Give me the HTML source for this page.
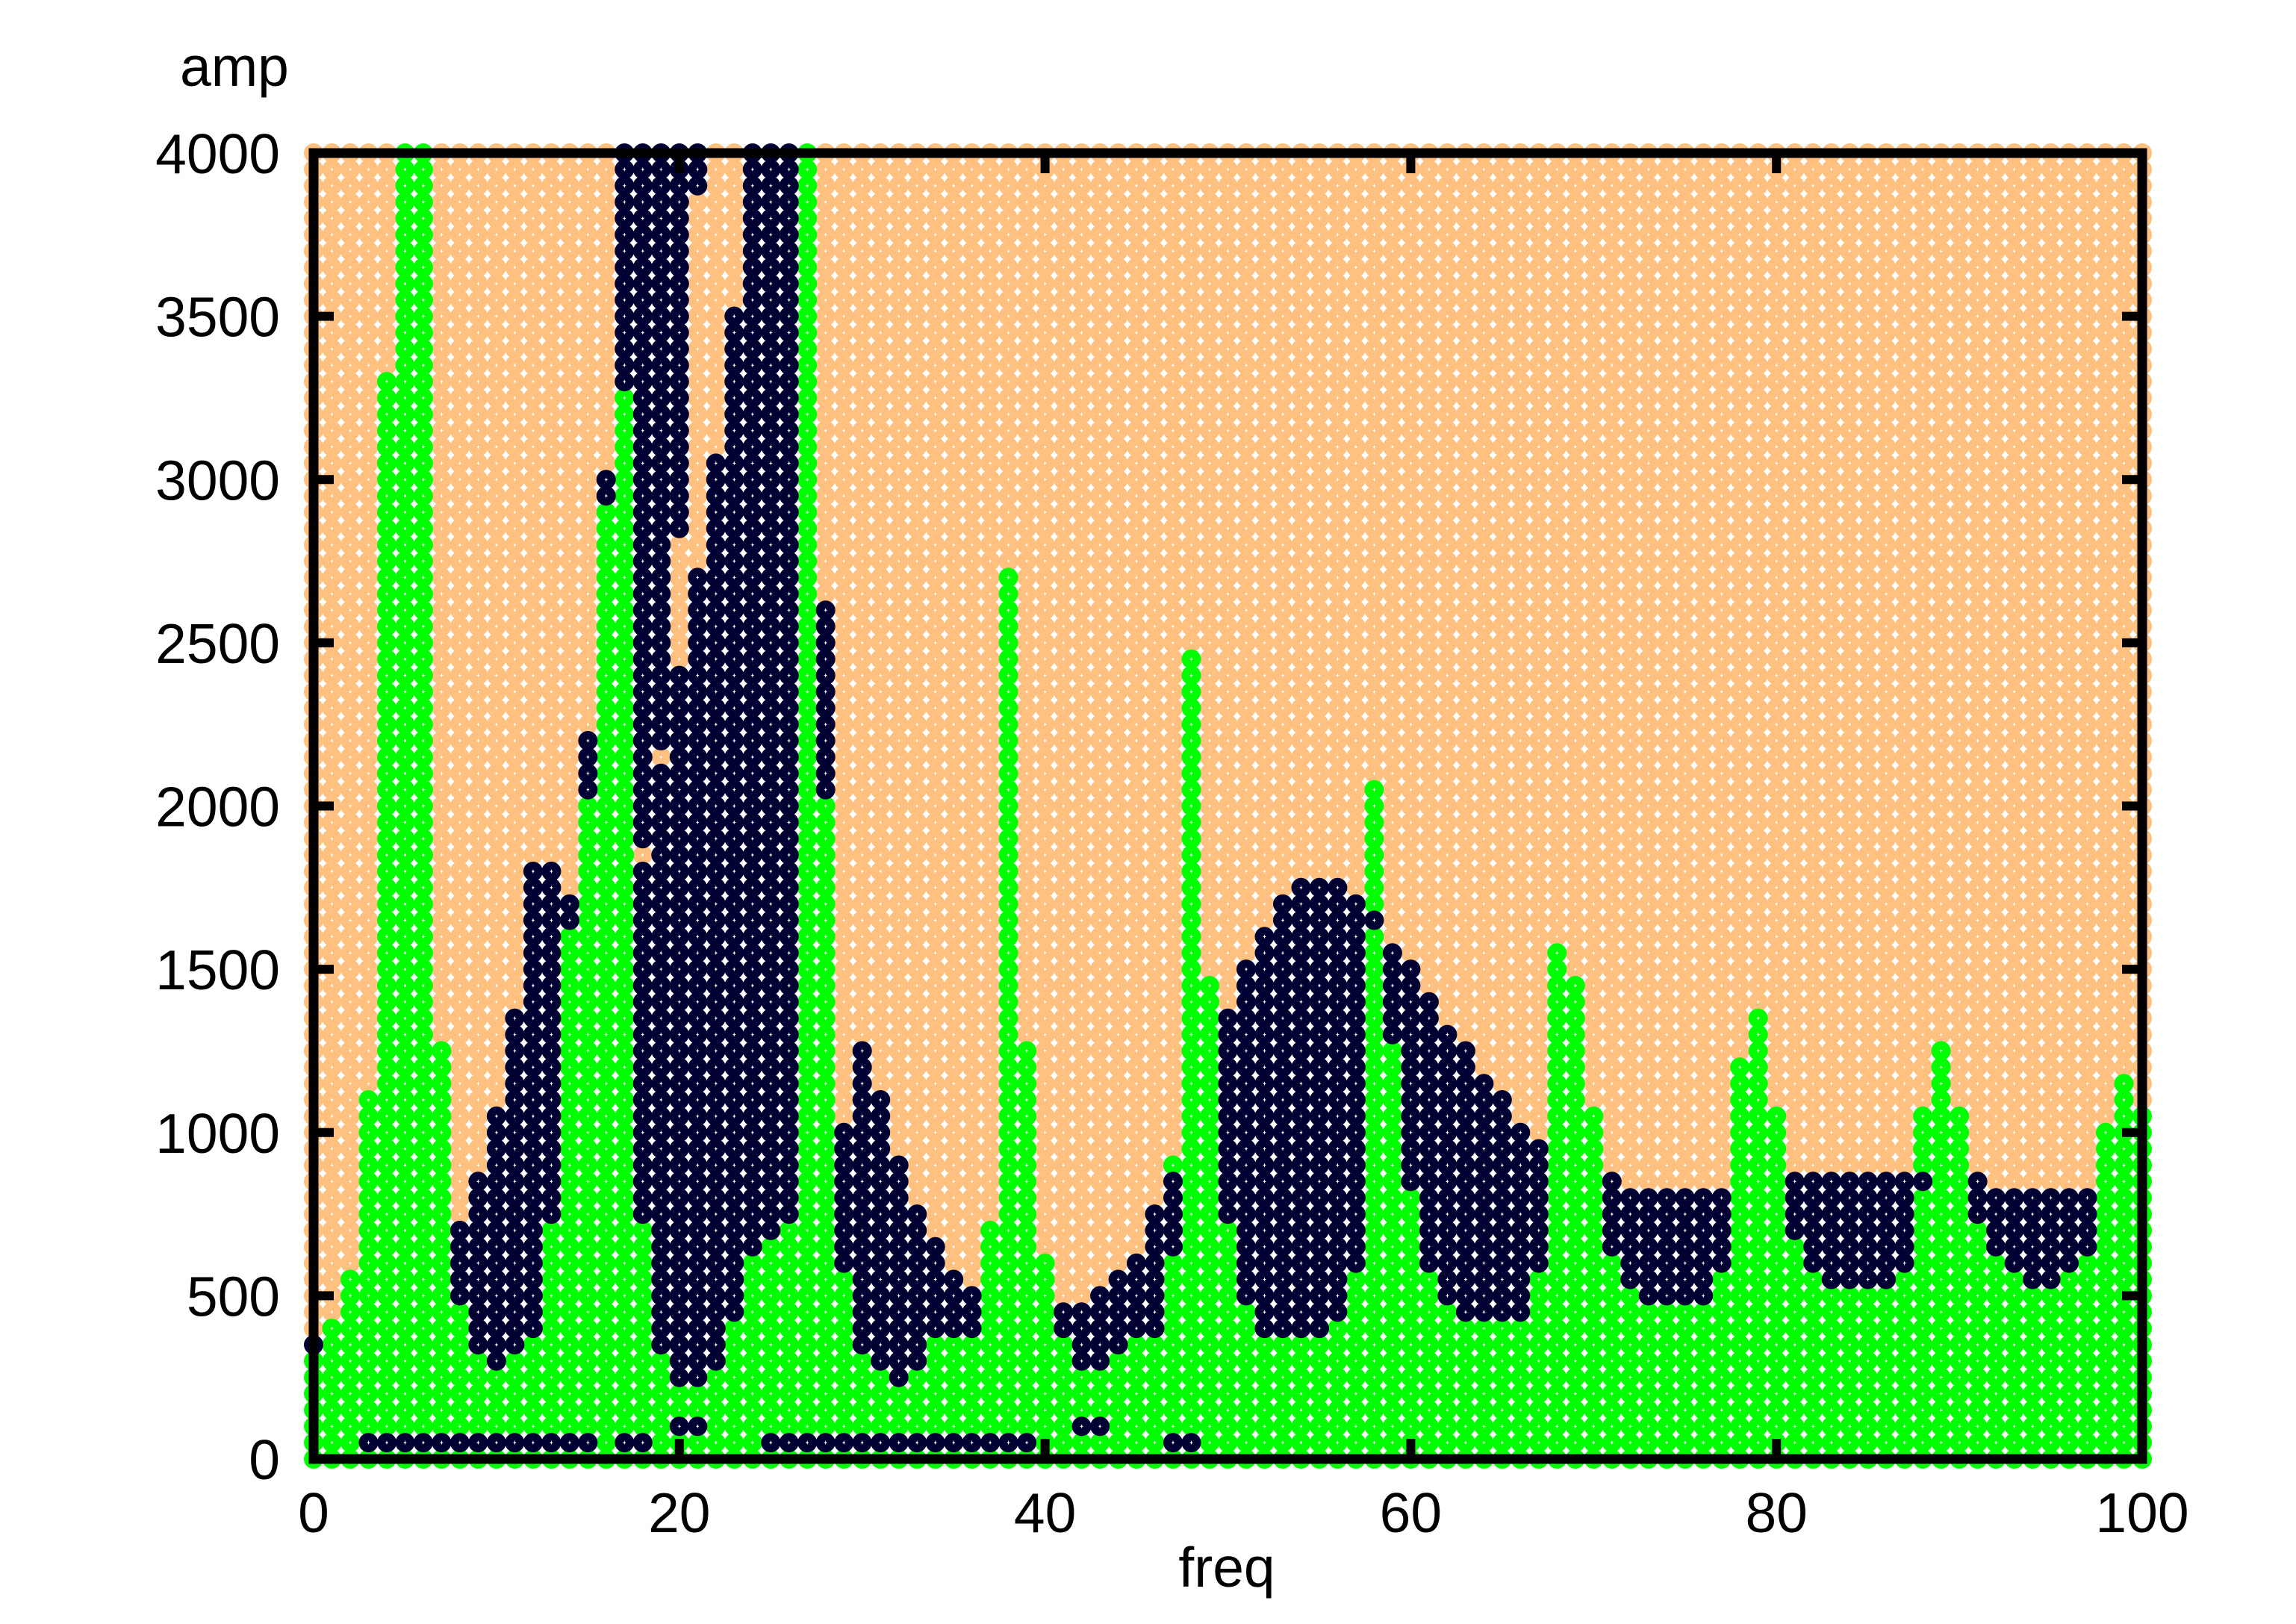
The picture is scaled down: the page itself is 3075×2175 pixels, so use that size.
<!DOCTYPE html>
<html>
<head>
<meta charset="utf-8">
<style>
  html,body{margin:0;padding:0;background:#fff;}
  svg{display:block;}
  text{font-family:"Liberation Sans",Arial,sans-serif;fill:#000;}
</style>
</head>
<body>
<svg id="chart" xmlns="http://www.w3.org/2000/svg" width="3075" height="2175" viewBox="0 0 3075 2175">
  <rect x="0" y="0" width="3075" height="2175" fill="#ffffff"/>
  <g id="dots-orange"></g>
  <g id="dots-green"></g>
  <g id="dots-navy"></g>
  <g id="dots-white"></g>
  <g id="axes"></g>
  <g id="labels"></g>
  <text x="241" y="115" font-size="75">amp</text>
  <text x="1643" y="2125" font-size="75" text-anchor="middle">freq</text>
</svg>
<script>
// ---- data (freq columns 0..100, amplitude grid step 50) ----
const greenTop = [300,400,550,1100,3300,4000,4000,1250,450,300,
  250,300,350,700,1600,2000,2900,3250,700,300,
  200,200,250,400,600,650,700,4000,2000,550,
  300,250,200,250,350,350,350,700,2700,1250,
  600,350,250,250,300,350,350,900,2450,1450,
  700,450,350,350,350,350,400,550,2050,1250,
  800,550,450,400,400,400,400,550,1550,1450,
  1050,600,500,450,450,450,450,550,1200,1350,
  1050,650,550,500,500,500,500,550,1050,1250,
  1050,700,600,550,500,500,550,600,1000,1150,
  1050];
const navyLo = [350,null,null,null,null,null,null,null,500,350,
  300,350,400,750,1650,2050,2950,3300,750,350,
  250,250,300,450,650,700,750,null,2050,600,
  350,300,250,300,400,400,400,null,null,null,
  null,400,300,300,350,400,400,650,null,null,
  750,500,400,400,400,400,450,600,1650,1300,
  850,600,500,450,450,450,450,600,null,null,
  null,650,550,500,500,500,500,600,null,null,
  null,700,600,550,550,550,550,600,850,null,
  null,750,650,600,550,550,600,650,null,null,
  null];
const navyHi = [350,null,null,null,null,null,null,null,700,850,
  1050,1350,1800,1800,1700,2200,3000,4000,1800,2100,
  2400,2700,3050,3500,4000,4000,4000,null,2600,1000,
  1250,1100,900,750,650,550,500,null,null,null,
  null,450,450,500,550,600,750,850,null,null,
  1350,1500,1600,1700,1750,1750,1750,1700,1650,1550,
  1500,1400,1300,1250,1150,1100,1000,950,null,null,
  null,850,800,800,800,800,800,800,null,null,
  null,850,850,850,850,850,850,850,850,null,
  null,850,800,800,800,800,800,800,null,null,
  null];
// second upper navy block (above an orange gap)
const navy2Cols = [18,19,20,21];
const navy2Lo = [1900,2200,2850,3900];
// isolated low navy dots
const lowNavyCols = [3,4,5,6,7,8,9,10,11,12,13,14,15,17,18,20,21,25,26,27,28,29,30,31,32,33,34,35,36,37,38,39,42,43,47,48];
const lowNavyVal = [50,50,50,50,50,50,50,50,50,50,50,50,50,50,50,100,100,50,50,50,50,50,50,50,50,50,50,50,50,50,50,50,100,100,50,50];
const xTicks = [0,20,40,60,80,100];
const yTicks = [0,500,1000,1500,2000,2500,3000,3500,4000];

// ---- scales ----
const X0=420, X1=2869, Y0=1954, Y1=205;
const xs = f => X0 + (X1-X0)*f/100;
const ys = v => Y0 - (Y0-Y1)*v/4000;
const COL={o:'#ffc080',g:'#00ff00',n:'#000033'};
const gO=document.getElementById('dots-orange'), gG=document.getElementById('dots-green'),
      gN=document.getElementById('dots-navy'), gW=document.getElementById('dots-white');

function colorAt(i,v){
  if(navyLo[i]!==null && v>=navyLo[i] && v<=navyHi[i]) return 'n';
  const j=navy2Cols.indexOf(i);
  if(j>=0 && v>=navy2Lo[j]) return 'n';
  for(let k=0;k<lowNavyCols.length;k++){ if(lowNavyCols[k]===i && lowNavyVal[k]===v) return 'n'; }
  if(v<=greenTop[i]) return 'g';
  return 'o';
}
let oStr='', gStr='', nStr='', wStr='';
for(let i=0;i<=100;i++){
  for(let k=0;k<=80;k++){
    const v=k*50, c=colorAt(i,v);
    const cx=xs(i).toFixed(1), cy=ys(v).toFixed(1);
    const circ=`<circle cx="${cx}" cy="${cy}" r="13"/>`;
    if(c==='o') oStr+=circ; else if(c==='g') gStr+=circ; else nStr+=circ;
    wStr+=`<path transform="translate(${cx} ${cy})" d="M0-3L0.7-0.7L2.4 0L0.7 0.7L0 3L-0.7 0.7L-2.4 0L-0.7-0.7Z"/>`;
  }
}
gO.setAttribute('fill',COL.o); gO.innerHTML=oStr;
gG.setAttribute('fill',COL.g); gG.innerHTML=gStr;
gN.setAttribute('fill',COL.n); gN.innerHTML=nStr;
gW.setAttribute('fill','#ffffff'); gW.innerHTML=wStr;

// ---- axes ----
const ax=document.getElementById('axes');
let a=`<rect x="${X0}" y="${Y1}" width="${X1-X0}" height="${Y0-Y1}" fill="none" stroke="#000" stroke-width="13"/>`;
const T=27;
xTicks.forEach(t=>{
  const x=xs(t);
  a+=`<line x1="${x}" y1="${Y0}" x2="${x}" y2="${Y0-T}" stroke="#000" stroke-width="12"/>`;
  a+=`<line x1="${x}" y1="${Y1}" x2="${x}" y2="${Y1+T}" stroke="#000" stroke-width="12"/>`;
});
yTicks.forEach(t=>{
  const y=ys(t);
  a+=`<line x1="${X0}" y1="${y}" x2="${X0+T}" y2="${y}" stroke="#000" stroke-width="12"/>`;
  a+=`<line x1="${X1}" y1="${y}" x2="${X1-T}" y2="${y}" stroke="#000" stroke-width="12"/>`;
});
ax.innerHTML=a;

// ---- labels ----
const lb=document.getElementById('labels');
let l='';
xTicks.forEach(t=>{
  l+=`<text x="${xs(t)}" y="2052" font-size="75" text-anchor="middle">${t}</text>`;
});
yTicks.forEach(t=>{
  l+=`<text x="375" y="${ys(t)+27}" font-size="75" text-anchor="end">${t}</text>`;
});
lb.innerHTML=l;
</script>
</body>
</html>
